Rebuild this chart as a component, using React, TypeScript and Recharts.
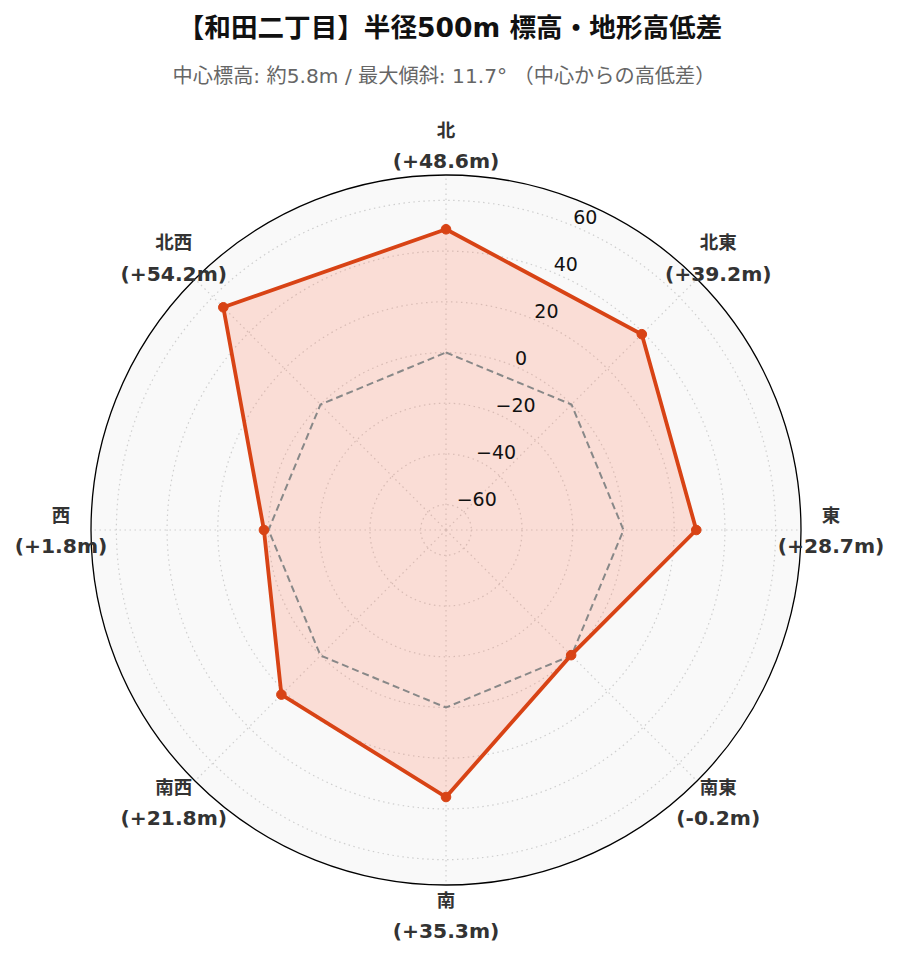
import React from 'react';
import { RadarChart, Radar, PolarGrid, PolarAngleAxis, PolarRadiusAxis } from 'recharts';

const directions = ['北', '北東', '東', '南東', '南', '南西', '西', '北西'];
const diffs = [48.6, 39.2, 28.7, -0.2, 35.3, 21.8, 1.8, 54.2];
const zeroLine = [0, 0, 0, 0, 0, 0, 0, 0];
const radialTicks = [-60, -40, -20, 0, 20, 40, 60];
const radialDomain = [-70, 70];

const TITLE = '【和田二丁目】半径500m 標高・地形高低差';
const SUBTITLE = '中心標高: 約5.8m / 最大傾斜: 11.7° （中心からの高低差）';

const data = directions.map((d, i) => ({ dir: d, diff: diffs[i], zero: zeroLine[i] }));

const CX = 446;
const CY = 530;
const OUTER = 355;
const LABEL_R = 385;
const FONT = '"DejaVu Sans", "Noto Sans CJK JP", sans-serif';

const fmtDiff = (v: number) => `(${v >= 0 ? '+' : ''}${v.toFixed(1)}m)`;

const AngleTick = (props: any) => {
  const { payload } = props;
  const idx = directions.indexOf(payload.value);
  const rad = (-payload.coordinate * Math.PI) / 180;
  const x = CX + LABEL_R * Math.cos(rad);
  const y = CY + LABEL_R * Math.sin(rad);
  return (
    <g>
      <text x={x} y={y - 15} textAnchor="middle" dominantBaseline="central" fontFamily={FONT} fontWeight="bold" fontSize={18.5} fill="#333">
        {payload.value}
      </text>
      <text x={x} y={y + 16} textAnchor="middle" dominantBaseline="central" fontFamily={FONT} fontWeight="bold" fontSize={20.3} fill="#333">
        {fmtDiff(diffs[idx])}
      </text>
    </g>
  );
};

const RadiusTick = (props: any) => {
  const { x, y, payload } = props;
  const v = payload.value;
  const s = v < 0 ? `\u2212${Math.abs(v)}` : String(v);
  return (
    <text x={x + 1} y={y - 8} textAnchor="start" dominantBaseline="central" fontFamily={FONT} fontSize={19} fill="#111">
      {s}
    </text>
  );
};

export default function App() {
  return (
    <div style={{ position: 'absolute', left: 0, top: 0, width: 900, height: 962, background: '#fff', fontFamily: FONT }}>
      <div style={{ position: 'absolute', left: 0, top: 11, width: 900, textAlign: 'center', fontSize: 26.6, fontWeight: 'bold', color: '#111', lineHeight: '34px' }}>
        {TITLE}
      </div>
      <div style={{ position: 'absolute', left: -6, top: 62, width: 900, textAlign: 'center', fontSize: 20.2, color: '#666', lineHeight: '28px', whiteSpace: 'pre' }}>
        {SUBTITLE}
      </div>
      <div style={{ position: 'absolute', left: CX - OUTER, top: CY - OUTER, width: OUTER * 2, height: OUTER * 2, borderRadius: '50%', background: '#f9f9f9' }} />
      <div style={{ position: 'absolute', left: 0, top: 0 }}>
        <RadarChart width={900} height={962} data={data} cx={CX} cy={CY} outerRadius={OUTER} startAngle={90} endAngle={-270}>
          <PolarGrid gridType="circle" stroke="#cfcfcf" strokeDasharray="1.5 3.5" strokeWidth={1.2} />
          <PolarGrid gridType="circle" polarRadius={[OUTER]} radialLines={false} stroke="#000" strokeWidth={1.3} />
          <PolarAngleAxis dataKey="dir" tick={<AngleTick />} tickLine={false} axisLine={false} />
          <PolarRadiusAxis angle={67.5} domain={radialDomain} ticks={radialTicks} tick={<RadiusTick />} axisLine={false} tickLine={false} />
          <Radar dataKey="diff" stroke="none" fill="#ff6e4a" fillOpacity={0.2} dot={false} isAnimationActive={false} />
          <Radar dataKey="zero" stroke="#888" strokeWidth={2} strokeDasharray="7 4" fill="none" fillOpacity={0} dot={false} isAnimationActive={false} />
          <Radar dataKey="diff" stroke="#d84315" strokeWidth={3.8} fill="none" fillOpacity={0} dot={{ r: 4.8, fill: '#d84315', fillOpacity: 1, stroke: '#d84315', strokeWidth: 1 }} isAnimationActive={false} />
        </RadarChart>
      </div>
    </div>
  );
}
